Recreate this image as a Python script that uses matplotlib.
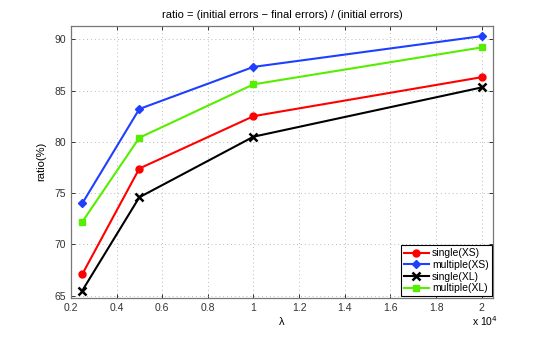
import matplotlib
matplotlib.use("Agg")
import matplotlib.pyplot as plt
import numpy as np

plt.rcParams['font.family'] = ['Liberation Sans', 'DejaVu Sans']

lam = np.array([2500, 5000, 10000, 20000])
single_xs = [67.1, 77.4, 82.5, 86.3]
multiple_xs = [74.0, 83.2, 87.3, 90.3]
single_xl = [65.5, 74.6, 80.5, 85.3]
multiple_xl = [72.2, 80.4, 85.6, 89.2]
xticks = [0.2, 0.4, 0.6, 0.8, 1.0, 1.2, 1.4, 1.6, 1.8, 2.0]
xticklabels = ['0.2', '0.4', '0.6', '0.8', '1', '1.2', '1.4', '1.6', '1.8', '2']
yticks = [65, 70, 75, 80, 85, 90]

fig = plt.figure(figsize=(5.45, 3.4), dpi=100)
ax = fig.add_axes([0.130, 0.124, 0.775, 0.800])

x = lam / 1e4
ax.plot(x, single_xs, color='#ff0000', marker='o', ms=5, lw=1.5, label='single(XS)')
ax.plot(x, multiple_xs, color='#1f3fff', marker='D', ms=4.5, lw=1.5, label='multiple(XS)')
ax.plot(x, single_xl, color='black', marker='x', ms=5.5, mew=1.8, lw=1.5, label='single(XL)')
ax.plot(x, multiple_xl, color='#55ee00', marker='s', ms=4.5, lw=1.5, label='multiple(XL)')

ax.set_xlim(0.2, 2.05)
ax.set_ylim(64.8, 91.3)
ax.set_xticks(xticks)
ax.set_xticklabels(xticklabels)
ax.set_yticks(yticks)
ax.grid(True, linestyle=(0, (1, 3)), color='#bbbbbb', lw=0.7)
ax.tick_params(direction='in', labelsize=7.5, length=3, colors='#333333', width=0.7,
               top=True, right=True)
for s in ax.spines.values():
    s.set_color('#777777')
    s.set_linewidth(0.9)

ax.set_title('ratio = (initial errors \u2212 final errors) / (initial errors)', fontsize=8, pad=6)
ax.set_xlabel('\u03bb', fontsize=8, labelpad=3)
ax.set_ylabel('ratio(%)', fontsize=8, labelpad=6)
fig.text(0.866, 0.035, r'x 10$^4$', fontsize=7.5, ha='left', va='bottom')

leg = ax.legend(loc='lower right', fontsize=7.5, fancybox=False, framealpha=1,
                edgecolor='black', borderaxespad=0.15, handlelength=2.4,
                labelspacing=0.15, borderpad=0.3, handletextpad=0.3)
leg.get_frame().set_linewidth(0.8)

fig.savefig('out.png', dpi=100)
